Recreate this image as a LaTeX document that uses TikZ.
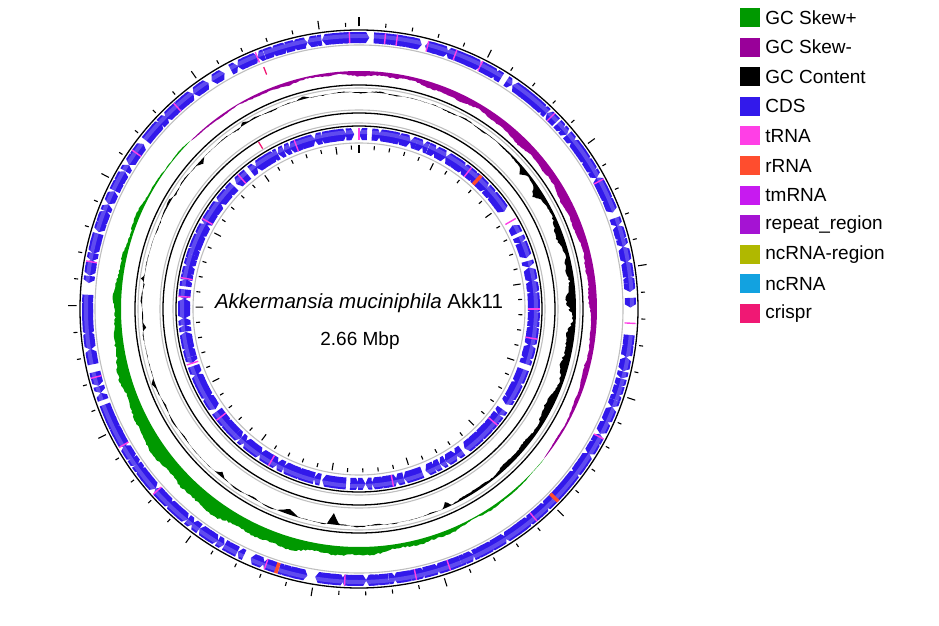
\documentclass[tikz,border=0pt]{standalone}
\usepackage{fontspec}
\setmainfont{Liberation Sans}
\usetikzlibrary{positioning}

\definecolor{skewpos}{HTML}{009900}
\definecolor{skewneg}{HTML}{990099}
\definecolor{cdsblue}{HTML}{3219EB}
\definecolor{trna}{HTML}{FF3FE6}
\definecolor{rrna}{HTML}{FF4D2E}
\definecolor{tmrna}{HTML}{C71AF0}
\definecolor{repeatreg}{HTML}{A513D3}
\definecolor{ncrnareg}{HTML}{B0B800}
\definecolor{ncrna}{HTML}{12A2E0}
\definecolor{crispr}{HTML}{F01874}

% one CDS arrow: inner r, outer r, start angle, tip angle, head (signed)
\newcommand{\cdsfeat}[5]{%
  \fill[cdsfill] ({#3}:#1) arc[start angle={#3}, end angle={#4+(#5)}, radius=#1]
    -- ({#4}:{(#1+#2)/2}) -- ({#4+(#5)}:#2)
    arc[start angle={#4+(#5)}, end angle={#3}, radius=#2] -- cycle;}

\begin{document}
\begin{tikzpicture}[x=1pt, y=1pt,
ringline/.style={black, line width=1.3},
ringshade/.style={black!25, line width=1.1},
tickmark/.style={black, line width=1.1},
zerotick/.style={black, line width=2.8},
cdsfill/.style={fill=cdsblue},
cdsgloss/.style={white, opacity=0.22, line width=4},
trnamark/.style={draw=trna, line width=1.4},
rrnamark/.style={draw=rrna, line width=3.5},
crisprmark/.style={draw=crispr, line width=1.3},
swatch/.style={rectangle, minimum width=20pt, minimum height=19pt, inner sep=0pt},
legtext/.style={inner sep=0pt, font=\fontsize{19}{23}\selectfont},
maptext/.style={inner sep=0pt, font=\fontsize{20.5}{24}\selectfont},
declare function={
  negamp(\x)=sqrt(abs(sin((\x+39)*1.03448)))*(5.5+2.5*cos(2*(\x-20))+1*sin(17*\x+20)+0.8*sin(41*\x)+1.5*rnd);
  posamp(\x)=sqrt(abs(sin((\x-135)*0.96774)))*(7.5+5*cos(2*(\x-225))+1.2*sin(19*\x)+1*sin(37*\x+40)+2*rnd);
  spk(\x,\ctr,\wid)=max(0,1-abs(\x-\ctr)/\wid);
  gcenv(\x)=max(0,(cos(\x+7.5)-0.4617)/0.5383);
  gcdev(\x)=-gcenv(\x)*(5.5+1.5*sin(23*\x)+1.2*sin(37*\x+10)+1*sin(43*\x)+2.2*rnd)
    +(1-gcenv(\x))*(0.7*sin(31*\x)+0.6*sin(43*\x+15)+0.8*rnd-0.4)
    -11*spk(\x,263,1.6)-5*spk(\x,251,3)-6*spk(\x,294,1.3)
    +3.5*spk(\x,122,1.5)-4*spk(\x,137,1.5)+4*spk(\x,172,1.2)
    -3.5*spk(\x,185,1.2)+3*spk(\x,200,1.5)+3*spk(\x,150,2)
    -3.5*spk(\x,230,1.5)+3*spk(\x,105,2)-5*spk(\x,40,1.5)-6*spk(\x,33,2);
}
]
    \useasboundingbox (-359,-317) rectangle (580,309);

    %Rings
    \draw[ringline]  (0,0) circle[radius=279];
    \draw[ringshade] (0,0) circle[radius=264];
    \draw[ringline]  (0,0) circle[radius=224];
    \draw[ringshade] (0,0) circle[radius=221];
    \draw[ringline]  (0,0) circle[radius=196];
    \draw[ringshade] (0,0) circle[radius=199];
    \draw[ringline]  (0,0) circle[radius=183];
    \draw[ringshade] (0,0) circle[radius=186];
    \draw[ringshade] (0,0) circle[radius=166];

    %Ticks
    \foreach \k in {0,...,66}{
        \pgfmathsetmacro\ta{90-\k*5.41353}
        \pgfmathtruncatemacro\km{mod(\k,5)}
        \ifnum\km=0
            \draw[tickmark] (\ta:282.5) -- (\ta:291);
            \draw[tickmark] (\ta:163.5) -- (\ta:156);
        \else
            \draw[tickmark] (\ta:282.5) -- (\ta:286.5);
            \draw[tickmark] (\ta:163.5) -- (\ta:159.5);
        \fi
    }
    \draw[zerotick] (90:282.5) -- (90:291.5);
    \draw[zerotick] (90:164) -- (90:155.5);

    %CDS, outer ring
    \pgfmathsetseed{266}
    \foreach \i in {0,...,229}{
        \pgfmathsetmacro\fskip{rnd}
        \ifdim\fskip pt>0.12pt
            \pgfmathsetmacro\fstart{90-\i*1.56522}
            \pgfmathsetmacro\flen{1.45+1.4*rnd}
            \pgfmathsetmacro\fhead{min(0.7,0.6*\flen)}
            \pgfmathsetmacro\fdir{rnd}
            \ifdim\fdir pt<0.5pt
                \cdsfeat{266}{277}{\fstart}{\fstart-\flen}{\fhead}
            \else
                \cdsfeat{266}{277}{\fstart-\flen}{\fstart}{-\fhead}
            \fi
        \fi
    }

    %CDS, inner ring
    \foreach \i in {0,...,169}{
        \pgfmathsetmacro\fskip{rnd}
        \ifdim\fskip pt>0.1pt
            \pgfmathsetmacro\fstart{90-\i*2.11765}
            \pgfmathsetmacro\flen{2.0+1.7*rnd}
            \pgfmathsetmacro\fhead{min(1.0,0.6*\flen)}
            \pgfmathsetmacro\fdir{rnd}
            \ifdim\fdir pt<0.5pt
                \cdsfeat{169}{181}{\fstart}{\fstart-\flen}{\fhead}
            \else
                \cdsfeat{169}{181}{\fstart-\flen}{\fstart}{-\fhead}
            \fi
        \fi
    }
    \draw[cdsgloss] (0,0) circle[radius=273];
    \draw[cdsgloss] (0,0) circle[radius=177];

    %tRNA, rRNA, crispr
    \foreach \p in {338,358,5.5,8,14.6,20.7,26.5,45,62,93,118,140,160.7,168,183,200,228,240,255.5,280,305,318}
        \draw[trnamark] ({90-\p}:266) -- ({90-\p}:277);
    \foreach \p in {0,38.5,60,90,99.6,130,169,210,232,252,274,280,300,318,339}
        \draw[trnamark] ({90-\p}:169) -- ({90-\p}:181);
    \foreach \p in {134,197.5}
        \draw[rrnamark] ({90-\p}:266) -- ({90-\p}:277);
    \draw[rrnamark] ({90-42.5}:169) -- ({90-42.5}:181);
    \draw[crisprmark] ({90-338.5}:252) -- ({90-338.5}:260);
    \draw[crisprmark] ({90-329}:187) -- ({90-329}:195);

    %GC skew
    \fill[skewneg] plot[domain=-39:135, samples=349] (\x:{238-negamp(\x)})
        -- (135:238) arc[start angle=135, end angle=-39, radius=238] -- cycle;
    \fill[skewpos] plot[domain=135:321, samples=373] (\x:{238+posamp(\x)})
        -- (321:238) arc[start angle=321, end angle=135, radius=238] -- cycle;

    %GC content
    \fill[black, even odd rule] plot[domain=0:360, samples=721] (\x:{217+gcdev(\x)}) -- cycle
        (0,0) circle[radius=217];

    %Title
    \node[maptext, anchor=base] (title) at (0,1) {\textit{Akkermansia muciniphila} Akk11};
    \node[maptext, anchor=base, font=\fontsize{19}{23}\selectfont] (size) at (1,-36) {2.66 Mbp};

    %Legend
    \foreach \lab/\col [count=\k from 0] in {GC Skew+/skewpos, GC Skew-/skewneg, GC Content/black,
        CDS/cdsblue, tRNA/trna, rRNA/rrna, tmRNA/tmrna, repeat\_region/repeatreg,
        ncRNA-region/ncrnareg, ncRNA/ncrna, crispr/crispr}{
        \node[swatch, fill=\col] (sw\k) at (391,{291.5-29.6*\k}) {};
        \node[legtext, right=5pt of sw\k] (lab\k) {\lab};
    }
\end{tikzpicture}
\end{document}
